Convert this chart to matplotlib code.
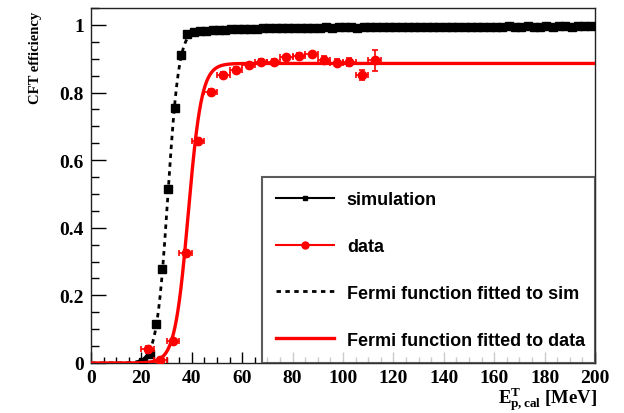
import numpy as np
import matplotlib
matplotlib.use("Agg")
import matplotlib.pyplot as plt
from matplotlib.lines import Line2D
from matplotlib.ticker import MultipleLocator

plt.rcParams["mathtext.fontset"] = "custom"
plt.rcParams["mathtext.rm"] = "Liberation Serif:bold"
plt.rcParams["mathtext.it"] = "Liberation Serif:bold"
plt.rcParams["mathtext.bf"] = "Liberation Serif:bold"

# simulation efficiency, 2.5 MeV bins starting at 20.75 MeV
sim_x = np.arange(20.75, 200.0, 2.5)
sim_eff = [
    0.003, 0.027, 0.115, 0.278, 0.515, 0.755, 0.912, 0.973,
    0.980, 0.982, 0.983, 0.985, 0.986, 0.986, 0.987, 0.988,
    0.988, 0.989, 0.989, 0.990, 0.990, 0.991, 0.990, 0.991,
    0.991, 0.992, 0.991, 0.992, 0.992, 0.993, 0.992, 0.993,
    0.993, 0.993, 0.992, 0.993, 0.994, 0.993, 0.994, 0.993,
    0.994, 0.994, 0.993, 0.994, 0.994, 0.995, 0.994, 0.994,
    0.995, 0.994, 0.995, 0.994, 0.995, 0.995, 0.994, 0.995,
    0.995, 0.995, 0.996, 0.995, 0.995, 0.996, 0.995, 0.995,
    0.996, 0.995, 0.996, 0.996, 0.995, 0.996, 0.996, 0.996,
]

# measured efficiency, 5 MeV bins
data_x = [22.5, 27.5, 32.5, 37.5, 42.5, 47.5, 52.5, 57.5, 62.5, 67.5,
          72.5, 77.5, 82.5, 87.5, 92.5, 97.5, 102.5, 107.5, 112.5]
data_eff = [0.041, 0.010, 0.064, 0.325, 0.656, 0.803, 0.853, 0.868, 0.880, 0.890,
            0.890, 0.904, 0.909, 0.913, 0.897, 0.888, 0.891, 0.852, 0.896]
data_xerr = 2.5
data_yerr = [0.010, 0.006, 0.008, 0.010, 0.010, 0.008, 0.008, 0.008, 0.008, 0.008,
             0.008, 0.008, 0.008, 0.008, 0.010, 0.010, 0.012, 0.014, 0.031]

# Fermi fit parameters (plateau, threshold, width)
sim_fit = (0.990, 30.5, 2.22)
data_fit = (0.886, 38.6, 2.65)


def fermi(x, a, x0, w):
    return a / (1.0 + np.exp(-(x - x0) / w))


fig = plt.figure(figsize=(6.24, 4.14), dpi=100)
ax = fig.add_axes([91 / 624, 50 / 414, 504 / 624, 355 / 414])

xx = np.linspace(0, 200, 2000)
ax.plot(xx, fermi(xx, *sim_fit), color="black", lw=2.0, ls=(0, (1.6, 1.6)), zorder=2)
ax.plot(sim_x, sim_eff, ls="none", marker="s", ms=5.8, color="black", zorder=3)

ax.plot(xx, fermi(xx, *data_fit), color="#ff0000", lw=2.4, zorder=4)
ax.errorbar(data_x, data_eff, xerr=data_xerr, yerr=data_yerr, fmt="o", ms=6,
            color="#ff0000", ecolor="#ff0000", elinewidth=1.2, capsize=2.5,
            capthick=1.2, zorder=5)

ax.set_xlim(0, 200)
ax.set_ylim(0, 1.05)
ax.xaxis.set_major_locator(MultipleLocator(20))
ax.xaxis.set_minor_locator(MultipleLocator(5))
ax.yaxis.set_major_locator(MultipleLocator(0.2))
ax.yaxis.set_minor_locator(MultipleLocator(0.05))
ax.yaxis.set_major_formatter(plt.FuncFormatter(lambda v, p: f"{v:g}"))

ax.tick_params(axis="both", which="both", direction="in", top=False, right=False,
               width=1.0, color="black")
ax.tick_params(axis="x", which="major", length=8, pad=4)
ax.tick_params(axis="x", which="minor", length=4)
ax.tick_params(axis="y", which="major", length=11, pad=5)
ax.tick_params(axis="y", which="minor", length=5.5)
for lab in ax.get_xticklabels() + ax.get_yticklabels():
    lab.set_fontfamily("Liberation Serif")
    lab.set_fontweight("bold")
    lab.set_fontsize(14)

for s in ax.spines.values():
    s.set_linewidth(1.0)
    s.set_color("#222222")

fig.text(35 / 624, 1 - 12 / 414, "CFT efficiency", rotation=90, ha="center", va="top",
         fontfamily="Liberation Serif", fontweight="bold", fontsize=10.5)
fig.text(597 / 624, 10 / 414, r"$\mathrm{E^{T}_{p,cal}}$ [MeV]", ha="right", va="baseline",
         fontfamily="Liberation Serif", fontweight="bold", fontsize=13.5)

handles = [
    Line2D([], [], color="black", lw=1.5, marker="s", ms=3.5),
    Line2D([], [], color="#ff0000", lw=1.5, marker="o", ms=5),
    Line2D([], [], color="black", lw=2.0, ls=(0, (1.6, 1.6))),
    Line2D([], [], color="#ff0000", lw=2.4),
]
labels = ["simulation", "data", "Fermi function fitted to sim", "Fermi function fitted to data"]
leg = ax.legend(handles, labels, loc="lower left", bbox_to_anchor=(171 / 504, 0.0, 333 / 504, 0.54),
                mode="expand", frameon=True, fancybox=False, borderaxespad=0,
                prop={"family": "Liberation Sans", "weight": "bold", "size": 13},
                handlelength=3.2, handletextpad=0.7, labelspacing=1.65, borderpad=0.8)
leg.get_frame().set_edgecolor("#333333")
leg.get_frame().set_linewidth(1.5)
leg.set_zorder(10)

fig.savefig("out.png", dpi=100)
